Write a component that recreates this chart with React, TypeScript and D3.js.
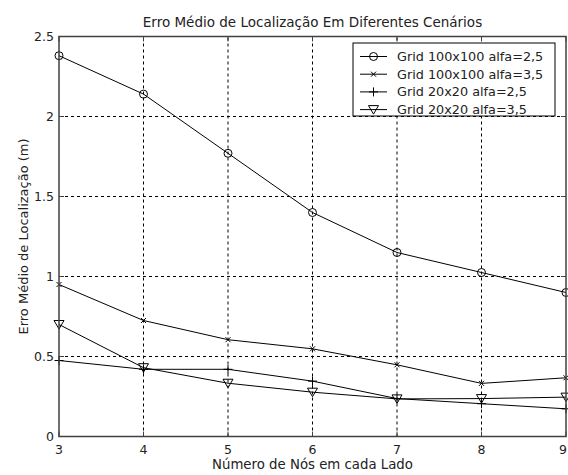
import React from 'react';
import * as d3 from 'd3';

const nodes = [3, 4, 5, 6, 7, 8, 9];
const grid100a25 = [2.38, 2.14, 1.77, 1.40, 1.15, 1.025, 0.90];
const grid100a35 = [0.95, 0.725, 0.605, 0.548, 0.448, 0.332, 0.367];
const grid20a25 = [0.475, 0.42, 0.42, 0.346, 0.237, 0.205, 0.173];
const grid20a35 = [0.70, 0.43, 0.333, 0.277, 0.235, 0.237, 0.246];
const legendLabels = [
    'Grid 100x100 alfa=2,5',
    'Grid 100x100 alfa=3,5',
    'Grid 20x20 alfa=2,5',
    'Grid 20x20 alfa=3,5'
];
const yTicks = [0, 0.5, 1, 1.5, 2, 2.5];
const yTickLabels = ['0', '0.5', '1', '1.5', '2', '2.5'];

const W = 568, H = 475;
const margin = {left: 59, right: 2, top: 36.5, bottom: 38.5};
const font = '"DejaVu Sans", "Liberation Sans", sans-serif';
const axisColor = '#404040';
const textColor = '#222';

const x = d3.scaleLinear().domain([3, 9]).range([margin.left, W - margin.right]);
const y = d3.scaleLinear().domain([0, 2.5]).range([H - margin.bottom, margin.top]);

const series = [
    {values: grid100a25, marker: 'circle'},
    {values: grid100a35, marker: 'x'},
    {values: grid20a25, marker: 'plus'},
    {values: grid20a35, marker: 'tri'}
];

const Marker = ({type, cx, cy}) => {
    const s = {fill: 'none', stroke: '#000', strokeWidth: 1};
    if (type === 'circle') return <circle cx={cx} cy={cy} r={4} {...s}/>;
    if (type === 'x') return <path d={`M${cx - 2.5},${cy - 2.5}L${cx + 2.5},${cy + 2.5}M${cx - 2.5},${cy + 2.5}L${cx + 2.5},${cy - 2.5}`} {...s}/>;
    if (type === 'plus') return <path d={`M${cx - 4.5},${cy}L${cx + 4.5},${cy}M${cx},${cy - 4.5}L${cx},${cy + 4.5}`} {...s}/>;
    return <path d={`M${cx - 5},${cy - 4}L${cx + 5},${cy - 4}L${cx},${cy + 4.5}Z`} {...s}/>;
};

const App = () => {
    const line = d3.line<number>().x((d, i) => x(nodes[i])).y(d => y(d));
    const x0 = x(3), x1 = x(9), y0 = y(0), y1 = y(2.5);
    const lx = 353, ly = 43, lw = 202, lh = 73;

    return (
        <div style={{position: 'absolute', left: 0, top: 0}}>
            <svg width={W} height={H} style={{display: 'block', background: '#fff'}} fontFamily={font}>
                <rect x={0} y={0} width={W} height={H} fill="#fff"/>
                {/* grid */}
                {nodes.slice(1, -1).map(n => (
                    <line key={'gx' + n} x1={x(n)} x2={x(n)} y1={y0} y2={y1} stroke="#000" strokeWidth={1} strokeDasharray="3,3"/>
                ))}
                {yTicks.slice(1, -1).map(t => (
                    <line key={'gy' + t} x1={x0} x2={x1} y1={y(t)} y2={y(t)} stroke="#000" strokeWidth={1} strokeDasharray="3,3"/>
                ))}
                {/* ticks inside */}
                {nodes.map(n => (
                    <g key={'tx' + n}>
                        <line x1={x(n)} x2={x(n)} y1={y0} y2={y0 - 5} stroke={axisColor}/>
                        <line x1={x(n)} x2={x(n)} y1={y1} y2={y1 + 5} stroke={axisColor}/>
                    </g>
                ))}
                {yTicks.map(t => (
                    <g key={'ty' + t}>
                        <line x1={x0} x2={x0 + 5} y1={y(t)} y2={y(t)} stroke={axisColor}/>
                        <line x1={x1} x2={x1 - 5} y1={y(t)} y2={y(t)} stroke={axisColor}/>
                    </g>
                ))}
                {/* data */}
                {series.map((s, si) => (
                    <g key={'s' + si}>
                        <path d={line(s.values)} fill="none" stroke="#000" strokeWidth={1}/>
                        {s.values.map((v, i) => <Marker key={i} type={s.marker} cx={x(nodes[i])} cy={y(v)}/>)}
                    </g>
                ))}
                {/* frame */}
                <rect x={x0} y={y1} width={x1 - x0} height={y0 - y1} fill="none" stroke={axisColor} strokeWidth={1.5}/>
                {/* tick labels */}
                {nodes.map(n => (
                    <text key={'lx' + n} x={Math.min(x(n), W - 5)} y={y0 + 17.5} textAnchor="middle" fontSize={12.5} fill={textColor}>{n}</text>
                ))}
                {yTicks.map((t, i) => (
                    <text key={'ly' + t} x={x0 - 5} y={y(t) + 4.5} textAnchor="end" fontSize={12.5} fill={textColor}>{yTickLabels[i]}</text>
                ))}
                {/* title & labels */}
                <text x={(x0 + x1) / 2} y={27} textAnchor="middle" fontSize={13.5} fill={textColor}>Erro Médio de Localização Em Diferentes Cenários</text>
                <text x={(x0 + x1) / 2} y={H - 6.5} textAnchor="middle" fontSize={13.3} fill={textColor}>Número de Nós em cada Lado</text>
                <text transform={`translate(27.5,${(y0 + y1) / 2}) rotate(-90)`} textAnchor="middle" fontSize={13} fill={textColor}>Erro Médio de Localização (m)</text>
                {/* legend */}
                <rect x={lx} y={ly} width={lw} height={lh} fill="#fff" stroke="#000" strokeWidth={1}/>
                {series.map((s, i) => {
                    const yy = ly + 13.5 + i * 17.7;
                    return (
                        <g key={'lg' + i}>
                            <line x1={lx + 7} x2={lx + 34} y1={yy} y2={yy} stroke="#000"/>
                            <Marker type={s.marker} cx={lx + 20.5} cy={yy}/>
                            <text x={lx + 44} y={yy + 4.5} fontSize={12.8} fill={textColor}>{legendLabels[i]}</text>
                        </g>
                    );
                })}
            </svg>
        </div>
    );
};

export default App;
